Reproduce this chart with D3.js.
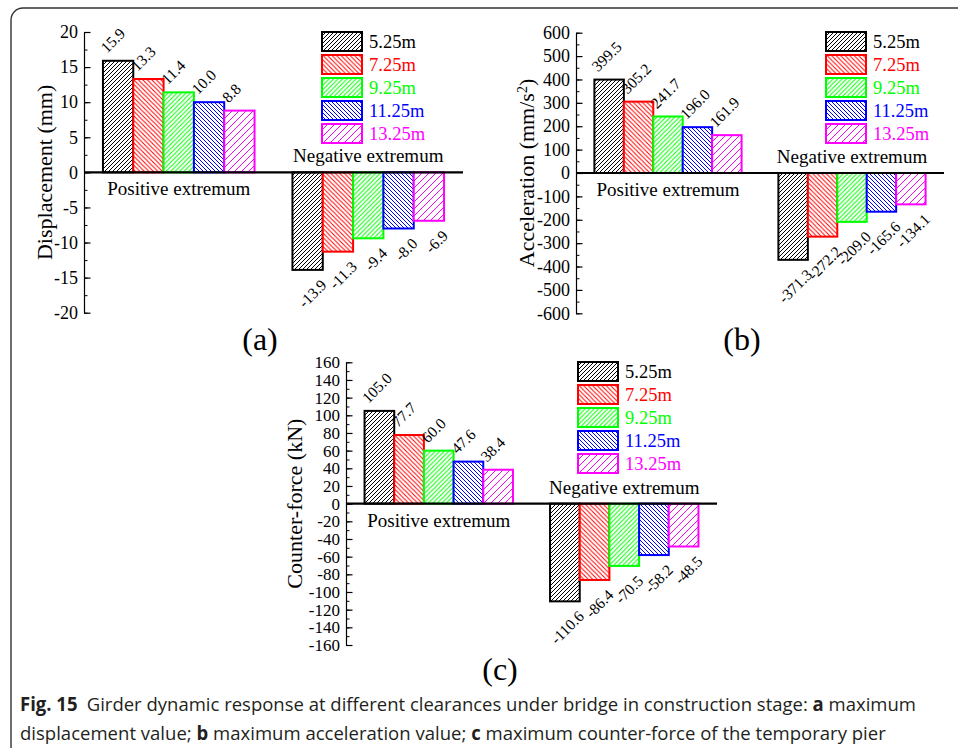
<!DOCTYPE html>
<html>
<head>
<meta charset="utf-8">
<script src="https://cdn.jsdelivr.net/npm/d3@7"></script>
<style>
  html, body { margin: 0; padding: 0; background: #fff; }
  svg { display: block; }
</style>
</head>
<body>
<svg id="fig" width="958" height="748"></svg>
<script>
// Clearance cases (series) and the two response extremes (categories)
const series = ["5.25m", "7.25m", "9.25m", "11.25m", "13.25m"];
const categories = ["Positive extremum", "Negative extremum"];

// (a) girder displacement, mm
const displacementPos = [15.9, 13.3, 11.4, 10.0, 8.8];
const displacementNeg = [-13.9, -11.3, -9.4, -8.0, -6.9];
const displacementTicks = [-20, -15, -10, -5, 0, 5, 10, 15, 20];

// (b) girder acceleration, mm/s^2
const accelerationPos = [399.5, 305.2, 241.7, 196.0, 161.9];
const accelerationNeg = [-371.3, -272.2, -209.0, -165.6, -134.1];
const accelerationTicks = [-600, -500, -400, -300, -200, -100, 0, 100, 200, 300, 400, 500, 600];

// (c) counter-force of the temporary pier, kN
const forcePos = [105.0, 77.7, 60.0, 47.6, 38.4];
const forceNeg = [-110.6, -86.4, -70.5, -58.2, -48.5];
const forceTicks = [-160, -140, -120, -100, -80, -60, -40, -20, 0, 20, 40, 60, 80, 100, 120, 140, 160];

const colors = ["#000000", "#ff0000", "#00ff00", "#0000ff", "#ff00ff"];
// hatch direction ("f" = /, "b" = \) and spacing for each series
const hatchDir = ["f", "b", "f", "b", "f"];
const hatchGap = [4, 4.5, 4.5, 4, 7];

const serif = "'Liberation Serif', 'Times New Roman', serif";
const svg = d3.select("#fig");

// ---- hatch patterns ----
const defs = svg.append("defs");
series.forEach((s, i) => {
  const g = hatchGap[i];
  const p = defs.append("pattern")
    .attr("id", "hatch" + i)
    .attr("patternUnits", "userSpaceOnUse")
    .attr("width", g).attr("height", g);
  p.append("rect").attr("width", g).attr("height", g).attr("fill", "#fff");
  const d = hatchDir[i] === "f"
    ? `M${-g/2},${g/2} L${g/2},${-g/2} M0,${g} L${g},0 M${g/2},${g*1.5} L${g*1.5},${g/2}`
    : `M${-g/2},${g/2} L${g/2},${g*1.5} M0,0 L${g},${g} M${g/2},${-g/2} L${g*1.5},${g/2}`;
  p.append("path").attr("d", d).attr("stroke", colors[i]).attr("stroke-width", 1).attr("fill", "none");
});

// ---- outer frame ----
svg.append("rect")
  .attr("x", 11).attr("y", 8).attr("width", 1000).attr("height", 800)
  .attr("rx", 12).attr("fill", "none").attr("stroke", "#333").attr("stroke-width", 1.4);

const panels = [
  { pos: displacementPos, neg: displacementNeg, ticks: displacementTicks, domain: [-20, 20], minor: 2.5,
    x: [84, 463], y: [312.7, 32], label: ["Displacement (mm)"], labelX: 52, legend: [322, 32],
    letter: "(a)", letterPos: [260, 350], tickFont: 18 },
  { pos: accelerationPos, neg: accelerationNeg, ticks: accelerationTicks, domain: [-600, 600], minor: 50,
    x: [576, 944], y: [313.3, 32.7], label: ["Acceleration (mm/s", "2", ")"], labelX: 534, legend: [826, 32],
    letter: "(b)", letterPos: [742, 350], tickFont: 18 },
  { pos: forcePos, neg: forceNeg, ticks: forceTicks, domain: [-160, 160], minor: 10,
    x: [346, 717], y: [645, 362.3], label: ["Counter-force (kN)"], labelX: 302, legend: [578, 362],
    letter: "(c)", letterPos: [500, 680], tickFont: 17 }
];

panels.forEach(cfg => {
  const g = svg.append("g");
  const y = d3.scaleLinear().domain(cfg.domain).range(cfg.y);
  const xCat = d3.scaleBand().domain(categories).range(cfg.x).paddingInner(0).paddingOuter(0);
  const bw = xCat.bandwidth();
  const xSer = d3.scaleBand().domain(series).range([bw * 0.1, bw * 0.9]).padding(0);
  const y0 = y(0);

  // minor ticks
  const minorVals = d3.range(cfg.domain[0], cfg.domain[1] + cfg.minor / 2, cfg.minor);
  g.append("g")
    .attr("transform", `translate(${cfg.x[0]},0)`)
    .call(d3.axisLeft(y).tickValues(minorVals).tickSizeInner(-3.5).tickSizeOuter(0).tickFormat(""))
    .call(a => a.select(".domain").remove())
    .call(a => a.selectAll("line").attr("stroke", "#000"));

  // major ticks and labels (ticks point into the plot)
  g.append("g")
    .attr("transform", `translate(${cfg.x[0]},0)`)
    .call(d3.axisLeft(y).tickValues(cfg.ticks).tickSizeInner(-6.5).tickSizeOuter(0).tickPadding(6)
      .tickFormat(d => String(d)))
    .call(a => a.select(".domain").attr("stroke", "#000").attr("stroke-width", 1.2))
    .call(a => a.selectAll("line").attr("stroke", "#000").attr("stroke-width", 1.2))
    .call(a => a.selectAll("text").attr("font-family", serif).attr("font-size", cfg.tickFont).attr("fill", "#000"));

  // y-axis title
  const yt = g.append("text")
    .attr("transform", `translate(${cfg.labelX},${(cfg.y[0] + cfg.y[1]) / 2}) rotate(-90)`)
    .attr("text-anchor", "middle")
    .attr("font-family", serif).attr("font-size", 22).attr("fill", "#000");
  yt.append("tspan").text(cfg.label[0]);
  if (cfg.label.length > 1) {
    yt.append("tspan").attr("baseline-shift", "super").attr("font-size", 14).text(cfg.label[1]);
    yt.append("tspan").text(cfg.label[2]);
  }

  // bars
  const groups = [
    { cat: categories[0], vals: cfg.pos },
    { cat: categories[1], vals: cfg.neg }
  ];
  groups.forEach(grp => {
    const gx = xCat(grp.cat);
    grp.vals.forEach((v, i) => {
      const bx = gx + xSer(series[i]);
      const w = xSer.bandwidth();
      const top = Math.min(y(v), y0);
      const h = Math.abs(y(v) - y0);
      g.append("rect")
        .attr("x", bx).attr("y", top).attr("width", w).attr("height", h)
        .attr("fill", `url(#hatch${i})`)
        .attr("stroke", colors[i]).attr("stroke-width", 2);
      const cx = bx + w / 2;
      const fmt = v.toFixed(1);
      if (v >= 0) {
        g.append("text")
          .attr("transform", `translate(${cx - 11},${y(v) - 7}) rotate(-45)`)
          .attr("text-anchor", "start")
          .attr("font-family", serif).attr("font-size", 15.5).attr("fill", "#000")
          .text(fmt);
      } else {
        g.append("text")
          .attr("transform", `translate(${cx + 20},${y(v) + 16}) rotate(-45)`)
          .attr("text-anchor", "end")
          .attr("font-family", serif).attr("font-size", 15.5).attr("fill", "#000")
          .text(fmt);
      }
    });
  });

  // zero line
  g.append("line")
    .attr("x1", cfg.x[0]).attr("x2", cfg.x[1]).attr("y1", y0).attr("y2", y0)
    .attr("stroke", "#000").attr("stroke-width", 2.2);

  // category names
  g.append("text")
    .attr("x", xCat(categories[0]) + bw / 2).attr("y", y0 + 23)
    .attr("text-anchor", "middle").attr("font-family", serif).attr("font-size", 19).attr("fill", "#000")
    .text(categories[0]);
  g.append("text")
    .attr("x", xCat(categories[1]) + bw / 2).attr("y", y0 - 10)
    .attr("text-anchor", "middle").attr("font-family", serif).attr("font-size", 19).attr("fill", "#000")
    .text(categories[1]);

  // legend
  const lg = g.append("g").attr("transform", `translate(${cfg.legend[0]},${cfg.legend[1]})`);
  series.forEach((s, i) => {
    lg.append("rect")
      .attr("x", 0).attr("y", i * 23).attr("width", 40).attr("height", 19)
      .attr("fill", `url(#hatch${i})`).attr("stroke", colors[i]).attr("stroke-width", 2);
    lg.append("text")
      .attr("x", 47).attr("y", i * 23 + 16)
      .attr("font-family", serif).attr("font-size", 18.5).attr("fill", colors[i])
      .text(s);
  });

  // panel letter
  g.append("text")
    .attr("x", cfg.letterPos[0]).attr("y", cfg.letterPos[1])
    .attr("text-anchor", "middle").attr("font-family", serif).attr("font-size", 32).attr("fill", "#000")
    .text(cfg.letter);
});

// ---- caption (each line squeezed horizontally to its set width) ----
const capFont = "'Open Sans', 'Noto Sans', sans-serif";
function captionLine(parts, yPos, width) {
  const wrap = svg.append("g");
  const t = wrap.append("text")
    .attr("x", 0).attr("y", 0)
    .attr("font-family", capFont).attr("font-size", 19).attr("fill", "#231f20");
  parts.forEach(([txt, bold]) => {
    const ts = t.append("tspan").text(txt);
    if (bold) ts.attr("font-weight", "bold");
  });
  const natural = t.node().getComputedTextLength();
  wrap.attr("transform", `translate(20,${yPos}) scale(${width / natural},1)`);
}
captionLine([
  ["Fig. 15", true],
  ["\u2002Girder dynamic response at different clearances under bridge in construction stage: ", false],
  ["a", true],
  [" maximum", false]
], 711, 896);
captionLine([
  ["displacement value; ", false],
  ["b", true],
  [" maximum acceleration value; ", false],
  ["c", true],
  [" maximum counter-force of the temporary pier", false]
], 740, 866);
</script>
</body>
</html>
